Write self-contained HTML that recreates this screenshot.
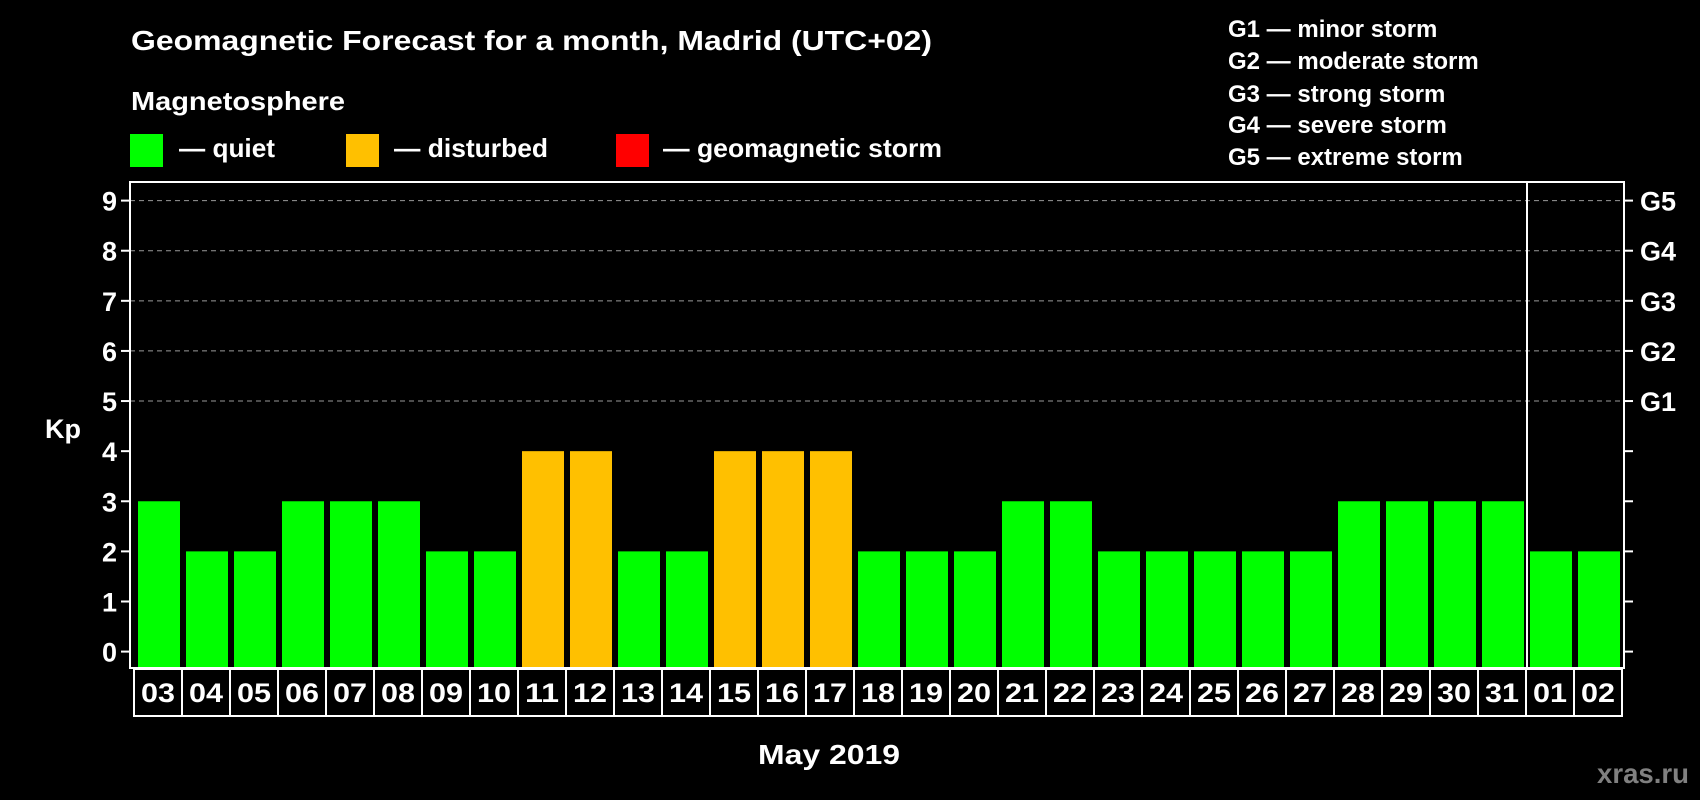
<!DOCTYPE html>
<html><head><meta charset="utf-8"><style>
html,body{margin:0;padding:0;background:#000;}
svg{display:block;font-family:"Liberation Sans",sans-serif;font-weight:bold;}
</style></head><body>
<svg id="chart" width="1700" height="800" viewBox="0 0 1700 800">
<rect x="0" y="0" width="1700" height="800" fill="#000"/>
<text x="131" y="50" fill="#fff" font-size="28" textLength="801" lengthAdjust="spacingAndGlyphs">Geomagnetic Forecast for a month, Madrid (UTC+02)</text>
<text x="131" y="110" fill="#fff" font-size="26" textLength="214" lengthAdjust="spacingAndGlyphs">Magnetosphere</text>
<rect x="130" y="134" width="33" height="33" fill="#00ff00"/>
<text x="179" y="157" fill="#fff" font-size="26" textLength="96" lengthAdjust="spacingAndGlyphs">— quiet</text>
<rect x="346" y="134" width="33" height="33" fill="#ffc000"/>
<text x="394" y="157" fill="#fff" font-size="26" textLength="154" lengthAdjust="spacingAndGlyphs">— disturbed</text>
<rect x="616" y="134" width="33" height="33" fill="#ff0000"/>
<text x="663" y="157" fill="#fff" font-size="26" textLength="279" lengthAdjust="spacingAndGlyphs">— geomagnetic storm</text>
<g fill="#fff" font-size="24">
<text x="1228" y="37">G1 — minor storm</text>
<text x="1228" y="69">G2 — moderate storm</text>
<text x="1228" y="102">G3 — strong storm</text>
<text x="1228" y="133">G4 — severe storm</text>
<text x="1228" y="165">G5 — extreme storm</text>
</g>
<g id="plot"></g>
<text x="63" y="438" fill="#fff" font-size="27" text-anchor="middle">Kp</text>
<text x="829" y="764" fill="#fff" font-size="28" text-anchor="middle" textLength="142" lengthAdjust="spacingAndGlyphs">May 2019</text>
<text x="1689" y="783" fill="#808080" font-size="28" text-anchor="end" textLength="92" lengthAdjust="spacingAndGlyphs">xras.ru</text>
</svg>
<script>
const days = ["03","04","05","06","07","08","09","10","11","12","13","14","15","16","17","18","19","20","21","22","23","24","25","26","27","28","29","30","31","01","02"];
const kpValues = [3,2,2,3,3,3,2,2,4,4,2,2,4,4,4,2,2,2,3,3,2,2,2,2,2,3,3,3,3,2,2];
const yTicks = [0,1,2,3,4,5,6,7,8,9];
const gLabels = ["G1","G2","G3","G4","G5"];
const gLevels = [5,6,7,8,9];
const monthEndIndex = 29;

const NS="http://www.w3.org/2000/svg";
const plot=document.getElementById('plot');
const L=130,R=1624,T=182,B=668,Y0=651.6,Y9=200.6;
const band=(R-L-6)/days.length;
const y=v=>Y0-(Y0-Y9)*v/9;
const x=i=>L+4+i*band;
function mk(tag,attrs){const e=document.createElementNS(NS,tag);for(const k in attrs)e.setAttribute(k,attrs[k]);plot.appendChild(e);return e;}
// grid
gLevels.forEach(v=>{
  const g=mk('line',{x1:L,x2:R,y1:y(v),y2:y(v),stroke:'#999','stroke-width':1,'stroke-dasharray':'5,4'});
  
  
});
// bars
kpValues.forEach((v,i)=>{
  const b=mk('rect',{x:x(i)+4,y:y(v),width:band-6,height:B-y(v),fill:v>=5?'#ff0000':(v>=4?'#ffc000':'#00ff00')});
  
  
});
// frame
const fr=mk('rect',{x:L,y:T,width:R-L,height:B-T,fill:'none',stroke:'#fff','stroke-width':2});


const sx=x(monthEndIndex)+1;
const sep=mk('line',{x1:sx,x2:sx,y1:T,y2:B,stroke:'#fff','stroke-width':2});


// ticks
yTicks.forEach(v=>{
  const t1=mk('line',{x1:L-9,x2:L,y1:y(v),y2:y(v),stroke:'#fff','stroke-width':2});
  
  
  const t2=mk('line',{x1:R,x2:R+9,y1:y(v),y2:y(v),stroke:'#fff','stroke-width':2});
  
  
  const tl=mk('text',{x:L-13,y:y(v)+10,fill:'#fff','font-size':27,'text-anchor':'end'});
  tl.textContent=v;
  
  
});
gLabels.forEach((g,i)=>{
  const t=mk('text',{x:R+16,y:y(gLevels[i])+10,fill:'#fff','font-size':27});
  t.textContent=g;
  
  
});
// x labels
days.forEach((d,i)=>{
  const bx=mk('rect',{x:x(i),y:B+1,width:band,height:47,fill:'none',stroke:'#fff','stroke-width':2});
  
  
  const t=mk('text',{x:x(i)+band/2,y:B+34,fill:'#fff','font-size':27,'text-anchor':'middle',textLength:34,lengthAdjust:'spacingAndGlyphs'});
  t.textContent=d;
  
  
});
</script>
</body></html>
